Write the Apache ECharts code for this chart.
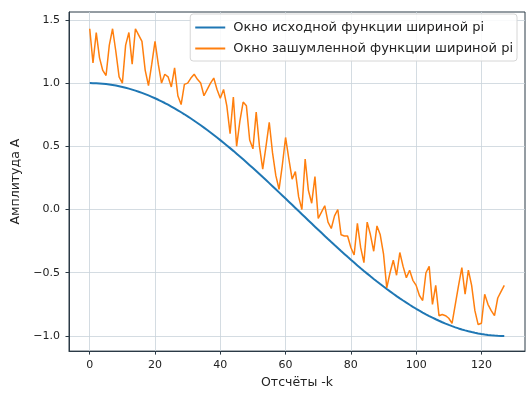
<!DOCTYPE html>
<html>
<head>
<meta charset="utf-8">
<script src="https://cdn.jsdelivr.net/npm/echarts@6/dist/echarts.min.js"></script>
<style>html,body{margin:0;padding:0;background:#fff}#c{width:526px;height:394px}</style>
</head>
<body>
<div id="c"></div>
<script>
var xTicks = [0, 20, 40, 60, 80, 100, 120];
var yTicks = [-1.0, -0.5, 0.0, 0.5, 1.0, 1.5];
var seriesNames = ['Окно исходной функции шириной pi', 'Окно зашумленной функции шириной pi'];
var original = [
 1.000, 0.9997, 0.9988, 0.9972, 0.9951, 0.9924, 0.9890, 0.9850, 0.9805, 0.9753,
 0.9696, 0.9632, 0.9563, 0.9487, 0.9406, 0.9320, 0.9227, 0.9129, 0.9025, 0.8916,
 0.8801, 0.8681, 0.8555, 0.8425, 0.8289, 0.8148, 0.8002, 0.7851, 0.7695, 0.7534,
 0.7369, 0.7199, 0.7025, 0.6847, 0.6664, 0.6478, 0.6287, 0.6093, 0.5895, 0.5694,
 0.5490, 0.5282, 0.5071, 0.4857, 0.4640, 0.4420, 0.4195, 0.3969, 0.3741, 0.3510,
 0.3278, 0.3043, 0.2807, 0.2568, 0.2328, 0.2087, 0.1845, 0.1601, 0.1356, 0.1111,
 0.0865, 0.0618, 0.0371, 0.0124, -0.0124, -0.0371, -0.0618, -0.0865, -0.1111, -0.1356,
 -0.1601, -0.1845, -0.2087, -0.2328, -0.2568, -0.2807, -0.3043, -0.3278, -0.3510, -0.3741,
 -0.3969, -0.4195, -0.4420, -0.4640, -0.4857, -0.5071, -0.5282, -0.5490, -0.5694, -0.5895,
 -0.6093, -0.6287, -0.6478, -0.6664, -0.6847, -0.7025, -0.7199, -0.7369, -0.7534, -0.7695,
 -0.7851, -0.8002, -0.8148, -0.8289, -0.8425, -0.8555, -0.8681, -0.8801, -0.8916, -0.9025,
 -0.9129, -0.9227, -0.9320, -0.9406, -0.9487, -0.9563, -0.9632, -0.9696, -0.9753, -0.9805,
 -0.9850, -0.9890, -0.9924, -0.9951, -0.9972, -0.9988, -0.9997, -1.000
];
var noisy = [
 1.43, 1.16, 1.40, 1.20, 1.10, 1.06, 1.30, 1.43, 1.25, 1.05,
 1.00, 1.30, 1.40, 1.15, 1.43, 1.38, 1.33, 1.10, 0.98, 1.15,
 1.33, 1.15, 1.00, 1.07, 1.05, 0.97, 1.12, 0.90, 0.83, 0.99,
 1.00, 1.04, 1.07, 1.03, 1.00, 0.90, 0.95, 1.00, 1.04, 0.95,
 0.88, 0.95, 0.82, 0.60, 0.89, 0.50, 0.70, 0.85, 0.82, 0.55,
 0.48, 0.77, 0.50, 0.32, 0.50, 0.69, 0.45, 0.27, 0.16, 0.35,
 0.57, 0.40, 0.24, 0.30, 0.10, 0.00, 0.40, 0.15, 0.05, 0.26,
 -0.07, -0.02, 0.03, -0.10, -0.15, -0.05, 0.00, -0.20, -0.21, -0.21,
 -0.30, -0.36, -0.11, -0.30, -0.42, -0.10, -0.20, -0.33, -0.13, -0.20,
 -0.35, -0.62, -0.50, -0.40, -0.52, -0.34, -0.45, -0.54, -0.48, -0.56,
 -0.60, -0.68, -0.72, -0.50, -0.45, -0.75, -0.60, -0.84, -0.83, -0.84,
 -0.86, -0.90, -0.75, -0.60, -0.46, -0.67, -0.48, -0.60, -0.80, -0.91,
 -0.90, -0.67, -0.75, -0.80, -0.84, -0.70, -0.65, -0.60
];
function pairs(arr){ return arr.map(function(v,i){ return [i, v]; }); }
function fmt(v){ var s = Math.abs(v).toFixed(1); return v < 0 ? '\u2212' + s : s; }
var font = 'DejaVu Sans';
var chart = echarts.init(document.getElementById('c'), null, {renderer:'canvas'});
chart.setOption({
  animation: false,
  backgroundColor: '#fff',
  grid: {left: 69, right: 1, top: 12, bottom: 40, show: true, borderColor: '#2b3a46', borderWidth: 1},
  legend: {
    orient: 'vertical', right: 9, top: 14,
    data: seriesNames,
    icon: 'rect',
    itemWidth: 30, itemHeight: 2, itemGap: 8,
    backgroundColor: 'rgba(255,255,255,0.85)', borderColor: '#d6d6d6', borderWidth: 1, borderRadius: 3,
    padding: [7, 4, 6, 5],
    textStyle: {fontFamily: font, fontSize: 13, color: '#222', padding: [0, 0, 0, 3]}
  },
  xAxis: {
    type: 'value', min: -6.35, max: 133.35,
    name: 'Отсчёты -k', nameLocation: 'middle', nameGap: 24,
    nameTextStyle: {fontFamily: font, fontSize: 12.5, color: '#222'},
    axisLine: {show: true, onZero: false, lineStyle: {color: '#2b3a46', width: 1}},
    axisTick: {show: true, inside: false, length: 3.5, customValues: xTicks, lineStyle: {color: '#2b3a46'}},
    axisLabel: {customValues: xTicks, fontFamily: font, fontSize: 11, color: '#222', margin: 9, formatter: function(v){ return String(v); }},
    splitLine: {show: true, lineStyle: {color: '#c9d3db', width: 0.8}}
  },
  yAxis: {
    type: 'value', min: -1.12, max: 1.5625,
    name: 'Амплитуда А', nameLocation: 'middle', nameGap: 42, nameRotate: 90,
    nameTextStyle: {fontFamily: font, fontSize: 12.5, color: '#222'},
    axisLine: {show: true, onZero: false, lineStyle: {color: '#2b3a46', width: 1}},
    axisTick: {show: true, inside: false, length: 3.5, customValues: yTicks, lineStyle: {color: '#2b3a46'}},
    axisLabel: {customValues: yTicks, fontFamily: font, fontSize: 11, color: '#222', margin: 9, formatter: fmt},
    splitLine: {show: true, lineStyle: {color: '#c9d3db', width: 0.8}}
  },
  series: [
    {name: seriesNames[0], type: 'line', data: pairs(original), symbol: 'none', lineStyle: {color: '#1f77b4', width: 2}, itemStyle: {color: '#1f77b4'}},
    {name: seriesNames[1], type: 'line', data: pairs(noisy), symbol: 'none', lineStyle: {color: '#ff7f0e', width: 1.5}, itemStyle: {color: '#ff7f0e'}}
  ]
});
</script>
</body>
</html>
